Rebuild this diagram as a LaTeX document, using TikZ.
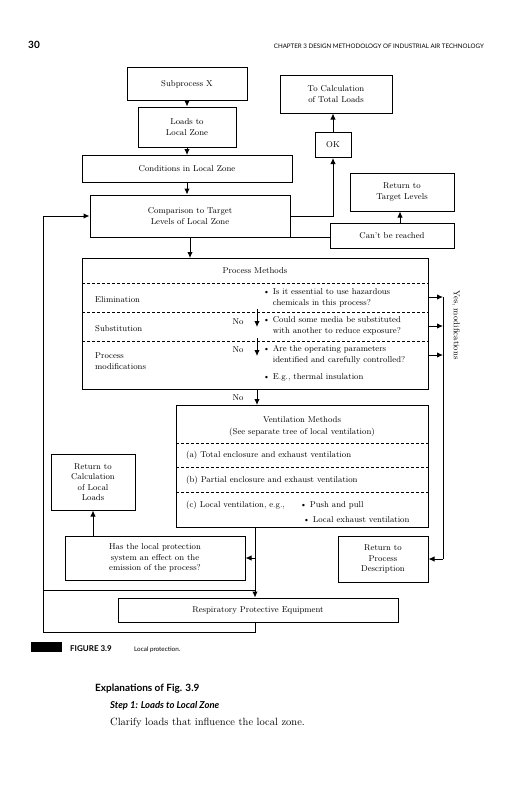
\documentclass[tikz,border=0pt]{standalone}
\usepackage{fontspec}
\newfontfamily\sansf{Lato}
\usetikzlibrary{arrows.meta}
\begin{document}
\begin{tikzpicture}[x=1pt,y=-1pt,
  box/.style={draw, line width=1pt, inner sep=0pt, align=center, font=\fontsize{8.5}{10.5}\selectfont},
  arr/.style={line width=1pt, -{Latex[length=6pt,width=5.5pt]}},
  ln/.style={line width=1pt},
  sep/.style={line width=0.5pt, dash pattern=on 3pt off 2pt},
  txt/.style={font=\fontsize{8.5}{10.5}\selectfont, inner sep=0pt},
]
\useasboundingbox (0,0) rectangle (523,800);

% header
\node[font=\sansf\bfseries\fontsize{10}{12}\selectfont, anchor=west, inner sep=0pt] (pg) at (28,45) {30};
\node[font=\sansf\fontsize{6.2}{7}\selectfont, anchor=east, inner sep=0pt] (hd) at (484,46) {CHAPTER 3 DESIGN METHODOLOGY OF INDUSTRIAL AIR TECHNOLOGY};

% top boxes
\node[box, minimum width=120, minimum height=32] (sub) at (187,84) {Subprocess X};
\node[box, minimum width=98, minimum height=40] (loads) at (187,127) {Loads to\\Local Zone};
\node[box, minimum width=210, minimum height=27] (cond) at (187,169) {Conditions in Local Zone};
\node[box, minimum width=200, minimum height=42] (comp) at (190,216) {Comparison to Target\\Levels of Local Zone};
\node[box, minimum width=112, minimum height=38] (calc) at (336,94) {To Calculation\\of Total Loads};
\node[box, minimum width=36, minimum height=25] (ok) at (333,145) {OK};
\node[box, minimum width=104, minimum height=38] (rtl) at (402,192) {Return to\\Target Levels};
\node[box, minimum width=124, minimum height=25] (cant) at (392,236) {Can't be reached};

\draw[arr] (sub) -- (loads);
\draw[arr] (loads) -- (cond);
\draw[arr] (cond.south) -- (cond.south |- comp.north);
\draw[arr] (comp.east) -- (333,216) -- (ok.south);
\draw[arr] (ok.north) -- (ok.north |- calc.south);
\draw[arr] (cant.north -| 400,0) -- (rtl.south -| 400,0);
\draw[ln] (comp.south east) -- (cant.west |- comp.south east);

% process methods
\node[box, minimum width=346, minimum height=131, anchor=north west] (pm) at (82,258) {};
\draw[sep] (82,283) -- (428,283);
\draw[sep] (82,312) -- (428,312);
\draw[sep] (82,341) -- (428,341);
\node[txt] (pmt) at (255,271) {Process Methods};
\node[txt, anchor=west] (elim) at (95,300) {Elimination};
\node[txt, anchor=west] (subs) at (95,329) {Substitution};
\node[txt, anchor=west, align=left] (pmod) at (95,361) {Process\\modifications};
\node[txt, anchor=west, align=left] (q1) at (263,298) {\textbullet~Is it essential to use hazardous\\\hphantom{\textbullet~}chemicals in this process?};
\node[txt, anchor=west, align=left] (q2) at (263,326) {\textbullet~Could some media be substituted\\\hphantom{\textbullet~}with another to reduce exposure?};
\node[txt, anchor=west, align=left] (q3) at (263,355) {\textbullet~Are the operating parameters\\\hphantom{\textbullet~}identified and carefully controlled?};
\node[txt, anchor=west] (q4) at (263,377) {\textbullet~E.g., thermal insulation};
\node[txt] (no1) at (238,322) {No};
\node[txt] (no2) at (238,350) {No};
\coordinate (a1s) at (257,309);
\coordinate (a1e) at (257,327);
\coordinate (a2s) at (257,338);
\coordinate (a2e) at (257,356);
\draw[arr] (a1s) -- (a1e);
\draw[arr] (a2s) -- (a2e);

% ventilation methods
\node[box, minimum width=252, minimum height=122, anchor=north west] (vm) at (176,405) {};
\draw[sep] (176,443) -- (428,443);
\draw[sep] (176,467) -- (428,467);
\draw[sep] (176,492) -- (428,492);
\node[txt] (vmt) at (302,420) {Ventilation Methods};
\node[txt] (vms) at (302,432) {(See separate tree of local ventilation)};
\node[txt, anchor=west] (va) at (186,455) {(a) Total enclosure and exhaust ventilation};
\node[txt, anchor=west] (vb) at (186,480) {(b) Partial enclosure and exhaust ventilation};
\node[txt, anchor=west] (vc) at (186,505) {(c) Local ventilation, e.g.,};
\node[txt, anchor=west] (vc1) at (300,505) {\textbullet~Push and pull};
\node[txt, anchor=west] (vc2) at (303,520) {\textbullet~Local exhaust ventilation};

\draw[arr] (comp.south) -- (comp.south |- pm.north);
\node[txt] (no3) at (238,398) {No};
\draw[arr] (257,389) -- (257,405);

% right side
\node[box, minimum width=90, minimum height=46] (rpd) at (383,559) {Return to\\Process\\Description};
\coordinate (y1) at (443,297);
\coordinate (y2) at (443,326);
\coordinate (y3) at (443,355);
\coordinate (y4) at (443,559);
\draw[arr] (pm.east |- y1) -- (y1);
\draw[arr] (pm.east |- y2) -- (y2);
\draw[arr] (pm.east |- y3) -- (y3);
\draw[ln] (y1) -- (y4);
\draw[arr] (y4) -- (rpd.east);
\node[txt, rotate=-90] (yes) at (456,325) {Yes, modifications};

% lower left
\node[box, minimum width=84, minimum height=56] (rcl) at (93,482) {Return to\\Calculation\\of Local\\Loads};
\node[box, minimum width=180, minimum height=44] (has) at (155,558) {Has the local protection\\system an effect on the\\emission of the process?};
\draw[arr] (has.north -| rcl.south) -- (rcl.south);
\node[box, minimum width=280, minimum height=24] (rpe) at (258,610) {Respiratory Protective Equipment};

\coordinate (tr) at (255,558);
\coordinate (tj) at (255,590);
\coordinate (lj) at (43,590);
\coordinate (bb) at (255,632);
\coordinate (bl) at (43,632);
\draw[arr] (vm.south -| tr) -- (tr |- rpe.north);
\draw[arr] (tr) -- (has.east);
\draw[ln] (tj) -- (lj);
\draw[ln] (rpe.south -| bb) -- (bb) -- (bl);
\draw[arr] (bl) -- (43,216) -- (comp.west);

% caption
\fill (31,642) rectangle (62,652);
\node[font=\sansf\bfseries\fontsize{8}{9}\selectfont, anchor=base west, inner sep=0pt] (fig) at (70,651) {FIGURE 3.9};
\node[font=\sansf\fontsize{6.3}{7}\selectfont, anchor=base west, inner sep=0pt] (figc) at (134,651) {Local protection.};

% text below
\node[font=\sansf\bfseries\fontsize{10}{12}\selectfont, anchor=base west, inner sep=0pt] (ex) at (95,691) {Explanations of Fig. 3.9};
\node[font=\sansf\bfseries\itshape\fontsize{9.5}{11}\selectfont, anchor=base west, inner sep=0pt] (st) at (110,708) {Step 1: Loads to Local Zone};
\node[font=\fontsize{10.5}{12}\selectfont, anchor=base west, inner sep=0pt] (cl) at (110,725) {Clarify loads that influence the local zone.};
\end{tikzpicture}
\end{document}
